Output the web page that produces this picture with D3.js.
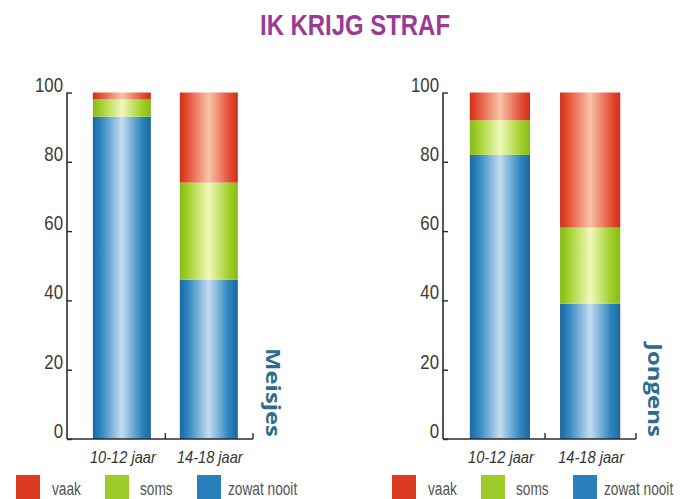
<!DOCTYPE html>
<html>
<head>
<meta charset="utf-8">
<script src="https://cdn.jsdelivr.net/npm/d3@7"></script>
<style>
  html, body { margin: 0; padding: 0; background: #ffffff; }
  svg { display: block; }
</style>
</head>
<body>
<svg id="chart" width="681" height="499"></svg>
<script>
// ---- data ----
const categories = ["10-12 jaar", "14-18 jaar"];
const seriesKeys = ["zowat nooit", "soms", "vaak"];
const legendOrder = ["vaak", "soms", "zowat nooit"];
const groups = ["Meisjes", "Jongens"];
// percentages per category, per group
const meisjesNooit = [93, 46];
const meisjesSoms = [5, 28];
const meisjesVaak = [2, 26];
const jongensNooit = [82, 39];
const jongensSoms = [10, 22];
const jongensVaak = [8, 39];
const yTicks = [0, 20, 40, 60, 80, 100];
const titleText = "IK KRIJG STRAF";

const svg = d3.select("#chart");
const FONT = "'Liberation Sans', Arial, sans-serif";

// squeeze a text horizontally to mimic a condensed typeface
function condense(sel, factor) {
  sel.each(function () {
    const w = this.getComputedTextLength();
    d3.select(this).attr("textLength", w * factor).attr("lengthAdjust", "spacingAndGlyphs");
  });
}

// cylinder-style gradients for each series
const palette = {
  "zowat nooit": ["#1c679f", "#2f86c0", "#c3ddf0"],
  "soms":        ["#86bb18", "#a2d02c", "#f0f9bc"],
  "vaak":        ["#cf3016", "#e5523a", "#f9c4a8"]
};
const legendColor = { "zowat nooit": "#2a80bd", "soms": "#9ccb2a", "vaak": "#dd3a22" };
const defs = svg.append("defs");
Object.entries(palette).forEach(([k, c], i) => {
  const g = defs.append("linearGradient")
    .attr("id", "grad" + i).attr("x1", 0).attr("x2", 1).attr("y1", 0).attr("y2", 0);
  [[0, c[0]], [0.14, c[1]], [0.5, c[2]], [0.84, c[1]], [1, c[0]]].forEach(([o, col]) =>
    g.append("stop").attr("offset", o).attr("stop-color", col));
});
const gradId = k => "url(#grad" + Object.keys(palette).indexOf(k) + ")";

// title
svg.append("text")
  .attr("x", 355).attr("y", 35)
  .attr("text-anchor", "middle")
  .attr("font-family", FONT)
  .attr("font-weight", "bold")
  .attr("font-size", 30)
  .attr("fill", "#9b3a95")
  .attr("textLength", 190).attr("lengthAdjust", "spacingAndGlyphs")
  .text(titleText);

const y = d3.scaleLinear().domain([0, 100]).range([439, 92.5]);

const panels = [
  { name: groups[0], nooit: meisjesNooit, soms: meisjesSoms, vaak: meisjesVaak,
    x0: 67, x1: 253, labelX: 273, legendX: 16 },
  { name: groups[1], nooit: jongensNooit, soms: jongensSoms, vaak: jongensVaak,
    x0: 443, x1: 636, labelX: 655, legendX: 392 }
];

panels.forEach(p => {
  const g = svg.append("g");
  const rows = categories.map((c, i) => ({
    cat: c, "zowat nooit": p.nooit[i], "soms": p.soms[i], "vaak": p.vaak[i]
  }));
  const stacked = d3.stack().keys(seriesKeys)(rows);

  const x = d3.scaleBand().domain(categories)
    .range([p.x0, p.x1])
    .paddingInner(0.333).paddingOuter(0.236).align(0.63);

  // bars
  stacked.forEach(layer => {
    g.selectAll(null).data(layer).enter().append("rect")
      .attr("x", d => x(d.data.cat))
      .attr("width", x.bandwidth())
      .attr("y", d => y(d[1]))
      .attr("height", d => y(d[0]) - y(d[1]))
      .attr("fill", gradId(layer.key));
  });

  // y axis: ticks point inward
  const yAxis = d3.axisRight(y).tickValues(yTicks).tickSize(5).tickFormat("");
  const ya = g.append("g").attr("transform", `translate(${p.x0},0)`).call(yAxis);
  ya.select(".domain").remove();
  ya.selectAll("line").attr("stroke", "#2b2b2b").attr("stroke-width", 1.4);
  g.append("line")
    .attr("x1", p.x0).attr("x2", p.x0).attr("y1", y(100)).attr("y2", y(0))
    .attr("stroke", "#2b2b2b").attr("stroke-width", 1.6);
  g.selectAll(null).data(yTicks).enter().append("text")
    .attr("x", p.x0 - 4).attr("y", d => y(d) - 1)
    .attr("text-anchor", "end")
    .attr("font-family", FONT)
    .attr("font-size", 21)
    .attr("fill", "#3a3a3a")
    .text(d => d)
    .call(condense, 0.8);

  // x axis with upward ticks between and after the bars
  g.append("line")
    .attr("x1", p.x0).attr("x2", p.x1).attr("y1", y(0)).attr("y2", y(0))
    .attr("stroke", "#2b2b2b").attr("stroke-width", 1.6);
  const step = x.step();
  const xt = [x(categories[0]) + x.bandwidth() + (step - x.bandwidth()) / 2, p.x1];
  g.selectAll(null).data(xt).enter().append("line")
    .attr("x1", d => d).attr("x2", d => d)
    .attr("y1", y(0)).attr("y2", y(0) - 6)
    .attr("stroke", "#2b2b2b").attr("stroke-width", 1.4);
  g.selectAll(null).data(categories).enter().append("text")
    .attr("x", d => x(d) + x.bandwidth() / 2 + 1)
    .attr("y", 463)
    .attr("text-anchor", "middle")
    .attr("font-family", FONT)
    .attr("font-style", "italic")
    .attr("font-size", 17)
    .attr("fill", "#333")
    .text(d => d)
    .call(condense, 0.86);

  // group label, rotated
  const len = p.name === "Meisjes" ? 89 : 94;
  const top = 437 - len;
  g.append("text")
    .attr("transform", `translate(${p.labelX - 7},${top}) rotate(90)`)
    .attr("font-family", "'Open Sans', 'DejaVu Sans', sans-serif")
    .attr("font-weight", "bold")
    .attr("font-size", 20)
    .attr("fill", "#2c6c8e")
    .attr("textLength", len).attr("lengthAdjust", "spacingAndGlyphs")
    .text(p.name);

  // legend
  const legendOffsets = [0, 89, 181];
  const textOffsets = [36, 124, 212];
  legendOrder.forEach((k, i) => {
    g.append("rect")
      .attr("x", p.legendX + legendOffsets[i]).attr("y", 475)
      .attr("width", 24).attr("height", 26)
      .attr("fill", legendColor[k]);
    g.append("text")
      .attr("x", p.legendX + textOffsets[i]).attr("y", 495)
      .attr("font-family", FONT)
      .attr("font-size", 18)
      .attr("fill", "#555")
      .text(k)
      .call(condense, 0.76);
  });
});
</script>
</body>
</html>
